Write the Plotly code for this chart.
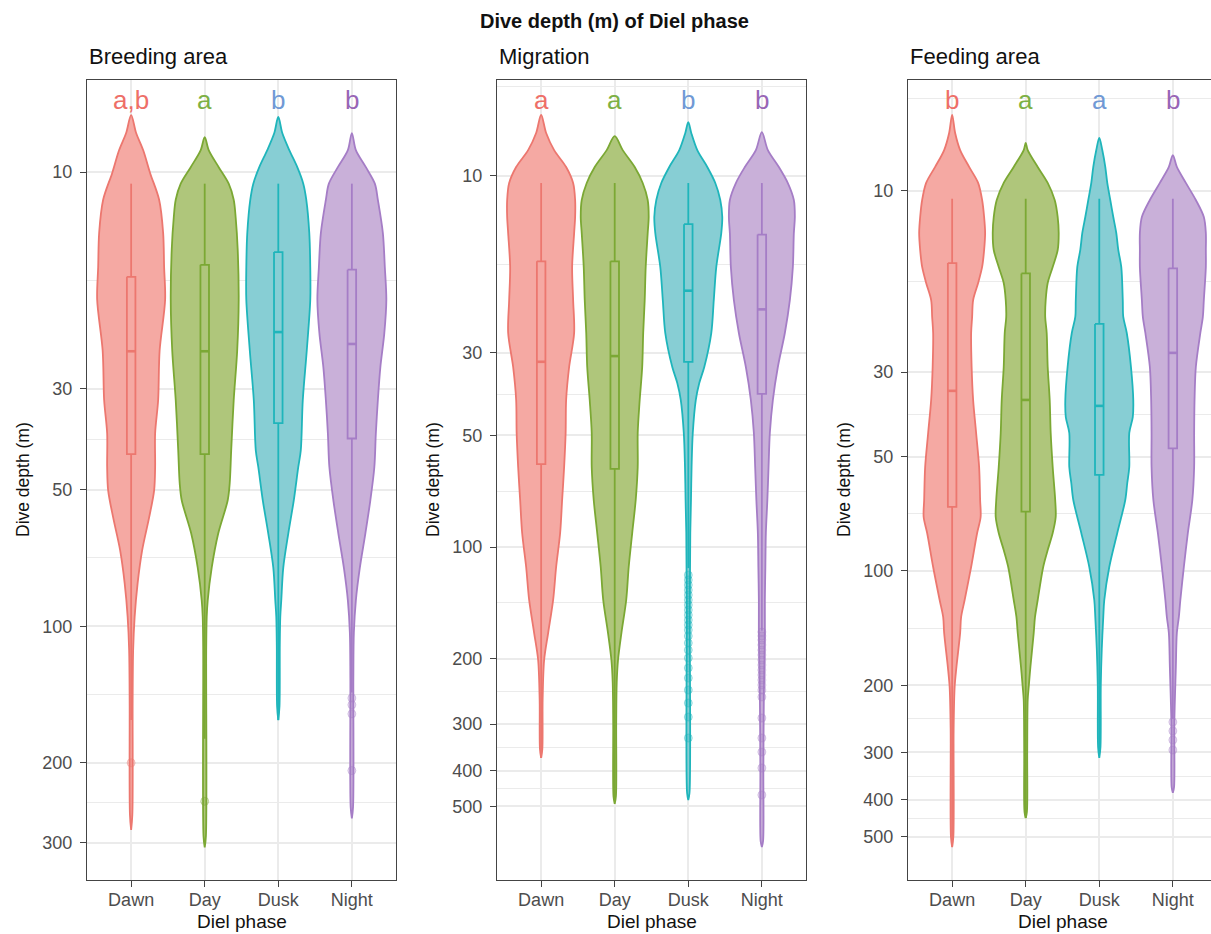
import plotly.graph_objects as go

# ---------------------------------------------------------------------------
# Data: dive depth (m) per diel phase for three movement stages.
# Each violin is described by depth knots (m) and the kernel-density
# half-width at those depths (relative units, max ~34).
# ---------------------------------------------------------------------------
phases = ["Dawn", "Day", "Dusk", "Night"]
panel_titles = ["Breeding area", "Migration", "Feeding area"]

# --- Breeding area ---------------------------------------------------------
breeding_dawn_depth = [7.49, 8.20, 8.94, 10.05, 11.5, 13.6, 16.2, 19.1, 24.7, 31.8, 37.6, 44.6, 50.2, 57.6, 68.1, 80.4, 95.4, 113, 146, 260, 281]
breeding_dawn_dens = [0, 5, 12, 19, 28, 32, 33, 34, 28.5, 27, 24, 24, 23, 18, 11, 6.5, 3.5, 2, 1.5, 1.2, 0]
breeding_day_depth = [8.37, 8.94, 9.75, 10.6, 11.5, 12.6, 14.8, 19.1, 24.7, 31.8, 41.0, 48.5, 52.8, 62.5, 74.3, 87.7, 95.4, 113, 290, 307]
breeding_day_dens = [0, 4, 14, 24, 29, 31, 33, 34, 32.5, 29, 26.5, 25, 23, 13.5, 7, 3, 2, 1.5, 1.2, 0]
breeding_dusk_depth = [7.56, 8.20, 8.94, 9.75, 10.6, 11.5, 13.6, 16.2, 19.1, 24.7, 31.8, 41.0, 44.6, 52.8, 62.5, 74.3, 87.7, 95.4, 110, 150, 161]
breeding_dusk_dens = [0, 4, 11, 19, 25, 28, 31, 32, 32, 28.5, 24.5, 22.5, 20, 15.5, 10, 5, 3, 2, 1.5, 1.2, 0]
breeding_night_depth = [8.20, 8.94, 9.75, 10.6, 11.5, 13.6, 16.2, 19.1, 22.6, 26.9, 31.8, 37.6, 44.6, 52.8, 62.5, 74.3, 87.7, 103.4, 130, 250, 265]
breeding_night_dens = [0, 4, 14, 23, 26, 31, 33, 34.5, 32.5, 28.5, 26, 24, 22.5, 18.5, 13.5, 8, 4, 2, 1.5, 1.2, 0]

# --- Migration -------------------------------------------------------------
migration_dawn_depth = [6.86, 7.67, 8.53, 9.47, 10.46, 11.62, 12.92, 14.27, 17.62, 21.62, 26.52, 32.74, 40.19, 49.32, 60.90, 74.71, 91.7, 113.2, 138.9, 170.5, 201.6, 258, 350, 370]
migration_dawn_dens = [0, 5, 13, 25, 32, 34, 34, 33, 31, 32, 33, 28, 25, 24.5, 23, 21, 19, 15, 12, 7, 3, 1.5, 1.2, 0]
migration_day_depth = [7.82, 8.53, 9.47, 10.46, 11.62, 12.92, 14.27, 17.62, 21.62, 26.52, 32.74, 40.19, 49.32, 60.90, 74.71, 91.7, 113.2, 138.9, 170.5, 201.6, 232.5, 300, 470, 492]
migration_day_dens = [0, 8, 20, 28, 33, 34, 33, 31, 30, 28.5, 27.5, 25, 23, 23, 21, 17.5, 14, 11.5, 6.7, 3.3, 2, 1.5, 1.2, 0]
migration_dusk_depth = [7.17, 7.67, 8.53, 9.47, 10.46, 11.62, 12.92, 14.27, 17.62, 21.62, 26.52, 32.74, 36.17, 40.19, 49.32, 60.90, 74.71, 91.7, 150, 460, 480]
migration_dusk_dens = [0, 3, 9, 19, 27, 32, 34, 33, 28, 25.5, 23, 16, 11, 7.5, 4.5, 3.3, 2.7, 2, 1.5, 1.2, 0]
migration_night_depth = [7.63, 8.53, 9.47, 10.46, 11.62, 12.92, 14.27, 17.62, 21.62, 26.52, 32.74, 40.19, 49.32, 60.90, 74.71, 91.7, 113.2, 138.9, 170.5, 250, 400, 620, 643]
migration_night_dens = [0, 6, 17, 26, 32, 33, 32, 31, 28, 23, 16, 11, 8, 6.7, 5.5, 4, 3.5, 3, 3, 2, 1.5, 1.2, 0]

# --- Feeding area ----------------------------------------------------------
feeding_dawn_depth = [6.32, 7.05, 7.82, 8.66, 9.54, 10.58, 11.73, 12.92, 14.32, 15.87, 17.49, 19.39, 21.48, 23.67, 29.08, 35.51, 43.36, 53.29, 65.06, 72.11, 79.45, 97.6, 119.2, 132.1, 145.6, 178.8, 201.8, 260, 500, 531.8]
feeding_dawn_dens = [0, 3, 8, 17, 26, 30, 32, 33, 32, 30, 26, 21, 20, 19, 19.5, 21, 24, 27, 28, 28.5, 25, 19, 12.5, 9, 8, 4.3, 2.5, 1.5, 1.2, 0]
feeding_day_depth = [7.49, 7.82, 8.66, 9.54, 10.58, 11.73, 12.92, 14.32, 15.87, 17.49, 19.39, 21.48, 23.67, 29.08, 35.51, 43.36, 53.29, 65.06, 72.11, 79.45, 88.1, 97.6, 119.2, 132.1, 145.6, 178.8, 201.8, 218, 300, 430, 446]
feeding_day_dens = [0, 2, 12, 22, 29, 32, 33, 32, 27, 22, 20, 19.5, 21, 22, 24, 25, 27, 29.5, 30, 27, 22, 17.5, 12, 9.3, 8, 4.7, 3, 2, 1.5, 1.2, 0]
feeding_dusk_depth = [7.27, 7.82, 8.66, 9.54, 10.58, 11.73, 12.92, 14.32, 15.87, 19.39, 21.48, 23.67, 29.08, 35.51, 39.4, 43.36, 53.29, 58.7, 65.06, 79.45, 97.6, 119.2, 132.1, 160, 200, 290, 310]
feeding_dusk_dens = [0, 3, 6, 8, 11, 14, 17, 19, 22, 23.5, 24, 27.5, 31.7, 34, 33.5, 30, 30, 28, 26, 18, 10, 5, 4, 2.5, 1.5, 1.2, 0]
feeding_night_depth = [8.06, 8.66, 9.54, 10.58, 11.73, 12.92, 14.32, 15.87, 19.39, 21.48, 23.67, 29.08, 35.51, 43.36, 53.29, 65.06, 79.45, 97.6, 119.2, 132.1, 145.6, 178.8, 250, 370, 383]
feeding_night_dens = [0, 4, 13, 23, 31, 33, 33, 33, 31, 30, 27.5, 23, 21.7, 21.3, 21.3, 19.5, 15, 11, 7.5, 6, 4, 3, 1.5, 1.2, 0]

# --- Box-plot statistics (m): lower whisker, Q1, median, Q3, upper whisker --
breeding_lower = [10.6, 10.6, 10.6, 10.6]
breeding_q1 = [17.0, 16.0, 15.0, 16.4]
breeding_median = [24.8, 24.8, 22.5, 23.9]
breeding_q3 = [41.8, 41.8, 35.7, 38.6]
breeding_upper = [161, 177, 161, 140]

migration_lower = [10.46, 10.46, 10.46, 10.46]
migration_q1 = [17.0, 17.0, 13.5, 14.4]
migration_median = [31.7, 30.6, 20.4, 22.9]
migration_q3 = [59.8, 61.6, 31.7, 38.7]
migration_upper = [370, 480, 114, 168]

feeding_lower = [10.5, 10.5, 10.5, 10.5]
feeding_q1 = [15.5, 16.5, 22.4, 16.0]
feeding_median = [33.6, 35.5, 36.8, 26.7]
feeding_q3 = [67.8, 69.8, 55.9, 47.6]
feeding_upper = [531, 446, 300, 245]

# --- Outlying dives (m) -----------------------------------------------------
breeding_outliers = {"Dawn": [200], "Day": [243], "Dusk": [], "Night": [144, 149, 156, 208]}
migration_outliers = {
    "Dawn": [], "Day": [],
    "Dusk": [119, 122.7, 126.6, 130.6, 134.7, 138.9, 143.3, 147.8, 152.5, 157.3, 162.2, 167.3,
             173.7, 181.4, 189.5, 199.1, 211.8, 225.4, 242.8, 263.2, 287.1, 327.0],
    "Night": [169.4, 173.6, 178.0, 183.6, 189.5, 195.4, 201.6, 207.9, 214.5, 221.2, 228.2, 235.4,
              242.8, 253.5, 288.8, 327, 356.6, 393.8, 465.5],
}
feeding_outliers = {"Dawn": [], "Day": [], "Dusk": [], "Night": [249.5, 263.4, 278.2, 295.6]}

# --- Compact-letter display of pairwise comparisons ------------------------
breeding_letters = ["a,b", "a", "b", "b"]
migration_letters = ["a", "a", "b", "b"]
feeding_letters = ["b", "a", "a", "b"]

# --- Axis ticks -------------------------------------------------------------
breeding_ticks = [10, 30, 50, 100, 200, 300]
breeding_minor = [17.32, 38.73, 70.71, 141.4, 244.9]
other_ticks = [10, 30, 50, 100, 200, 300, 400, 500]
other_minor = [5.74, 17.32, 38.73, 70.71, 141.4, 244.9, 346.4, 447.2]

# ---------------------------------------------------------------------------
# Styling
# ---------------------------------------------------------------------------
line_colors = ["#EC776F", "#7BA834", "#1FB5BB", "#A57DC6"]
fill_colors = ["#F5A9A3", "#AFC67B", "#87CED4", "#C9B0D9"]
point_rgb = ["236,119,111", "123,168,52", "31,181,187", "165,125,198"]
letter_colors = ["#EE6F68", "#7DB044", "#7099D5", "#9865B6"]
DENS_TO_X = 1 / 73.6          # density unit -> category-axis half width
BOX_HALF = 0.058
FONT = "Liberation Sans, Arial, sans-serif"
GRID = "#EBEBEB"
FRAME = "#444444"
W, H = 1211, 934

panels = [
    dict(title=panel_titles[0],
         depths=[breeding_dawn_depth, breeding_day_depth, breeding_dusk_depth, breeding_night_depth],
         dens=[breeding_dawn_dens, breeding_day_dens, breeding_dusk_dens, breeding_night_dens],
         box=(breeding_lower, breeding_q1, breeding_median, breeding_q3, breeding_upper),
         outliers=breeding_outliers, letters=breeding_letters,
         ticks=breeding_ticks, minor=breeding_minor, yrange=[2.559, 0.797],
         px=(87, 396), xrange=[0.4, 4.6]),
    dict(title=panel_titles[1],
         depths=[migration_dawn_depth, migration_day_depth, migration_dusk_depth, migration_night_depth],
         dens=[migration_dawn_dens, migration_day_dens, migration_dusk_dens, migration_night_dens],
         box=(migration_lower, migration_q1, migration_median, migration_q3, migration_upper),
         outliers=migration_outliers, letters=migration_letters,
         ticks=other_ticks, minor=other_minor, yrange=[2.897, 0.742],
         px=(497, 806), xrange=[0.4, 4.6]),
    dict(title=panel_titles[2],
         depths=[feeding_dawn_depth, feeding_day_depth, feeding_dusk_depth, feeding_night_depth],
         dens=[feeding_dawn_dens, feeding_day_dens, feeding_dusk_dens, feeding_night_dens],
         box=(feeding_lower, feeding_q1, feeding_median, feeding_q3, feeding_upper),
         outliers=feeding_outliers, letters=feeding_letters,
         ticks=other_ticks, minor=other_minor, yrange=[2.8125, 0.709],
         px=(908, 1211), xrange=[0.4, 0.4 + 303 / 73.57]),
]

PLOT_TOP, PLOT_BOTTOM = 80, 880
ydom = [1 - PLOT_BOTTOM / H, 1 - PLOT_TOP / H]

fig = go.Figure()
annotations = []
layout_axes = {}

for p, panel in enumerate(panels):
    sfx = "" if p == 0 else str(p + 1)
    xa, ya = "x" + sfx, "y" + sfx
    positions = [1, 2, 3, 4]

    for i, phase in enumerate(phases):
        xc = positions[i]
        depth = panel["depths"][i]
        dens = panel["dens"][i]

        # violin outline: left edge top->bottom, right edge bottom->top
        xs = [xc - d * DENS_TO_X for d in dens] + [xc + d * DENS_TO_X for d in dens][::-1]
        ys = list(depth) + list(depth)[::-1]
        fig.add_trace(go.Scatter(
            x=xs, y=ys, mode="lines", fill="toself", fillcolor=fill_colors[i],
            line=dict(color=line_colors[i], width=1.8, shape="spline", smoothing=0.9),
            xaxis=xa, yaxis=ya, showlegend=False, hoverinfo="skip"))

        # narrow box plot (whiskers, IQR box, median)
        lo, q1, med, q3, hi = (s[i] for s in panel["box"])
        bx = [xc, xc, None,
              xc - BOX_HALF, xc + BOX_HALF, xc + BOX_HALF, xc - BOX_HALF, xc - BOX_HALF, None,
              xc, xc]
        by = [lo, q1, None, q1, q1, q3, q3, q1, None, q3, hi]
        fig.add_trace(go.Scatter(
            x=bx, y=by, mode="lines", line=dict(color=line_colors[i], width=1.8),
            xaxis=xa, yaxis=ya, showlegend=False, hoverinfo="skip"))
        fig.add_trace(go.Scatter(
            x=[xc - BOX_HALF, xc + BOX_HALF], y=[med, med], mode="lines",
            line=dict(color=line_colors[i], width=2.6),
            xaxis=xa, yaxis=ya, showlegend=False, hoverinfo="skip"))

        pts = panel["outliers"][phase]
        if pts:
            fig.add_trace(go.Scatter(
                x=[xc] * len(pts), y=pts, mode="markers",
                marker=dict(size=8, color=f"rgba({point_rgb[i]},0.24)",
                            line=dict(color=f"rgba({point_rgb[i]},0.4)", width=1)),
                xaxis=xa, yaxis=ya, showlegend=False, hoverinfo="skip"))

        annotations.append(dict(
            x=xc, y=0.975, xref=xa, yref=f"{ya} domain", text=panel["letters"][i],
            showarrow=False, xanchor="center", yanchor="middle",
            font=dict(family=FONT, size=26, color=letter_colors[i])))

    x0, x1 = panel["px"]
    last = p == 2
    layout_axes["xaxis" + sfx] = dict(
        domain=[x0 / W, x1 / W], range=panel["xrange"], anchor=ya,
        tickmode="array", tickvals=positions, ticktext=phases,
        showgrid=True, gridcolor=GRID, gridwidth=1.5, zeroline=False,
        showline=True, mirror=True, linecolor=FRAME, linewidth=1.2,
        ticks="outside", ticklen=6, tickwidth=1.2, tickcolor=FRAME, ticklabelstandoff=-3,
        tickfont=dict(family=FONT, size=18, color="#4D4D4D"))
    layout_axes["yaxis" + sfx] = dict(
        domain=ydom, type="log", range=panel["yrange"], anchor=xa,
        tickmode="array", tickvals=panel["ticks"], ticktext=[str(t) for t in panel["ticks"]],
        showgrid=True, gridcolor=GRID, gridwidth=1.5, zeroline=False,
        minor=dict(tickmode="array", tickvals=panel["minor"], showgrid=True,
                   gridcolor=GRID, gridwidth=1, ticklen=0),
        showline=True, mirror=not last, linecolor=FRAME, linewidth=1.2,
        ticks="outside", ticklen=6, tickwidth=1.2, tickcolor=FRAME, ticklabelstandoff=4,
        tickfont=dict(family=FONT, size=18, color="#4D4D4D"))

    # panel title, axis titles
    annotations.append(dict(x=x0 / W, y=1 - 56 / H, xref="paper", yref="paper",
                            text=panel["title"], showarrow=False, xanchor="left", yanchor="middle",
                            font=dict(family=FONT, size=22, color="#111111")))
    annotations.append(dict(x=(x0 - 64) / W, y=1 - 480 / H, xref="paper", yref="paper",
                            text="Dive depth (m)", showarrow=False, textangle=-90,
                            xanchor="center", yanchor="middle",
                            font=dict(family=FONT, size=17.5, color="#111111")))
    xc_title = (x0 + x0 + 309) / 2
    annotations.append(dict(x=xc_title / W, y=1 - 921 / H, xref="paper", yref="paper",
                            text="Diel phase", showarrow=False, xanchor="center", yanchor="middle",
                            font=dict(family=FONT, size=19, color="#111111")))

annotations.append(dict(x=615 / W, y=1 - 21 / H, xref="paper", yref="paper",
                        text="<b>Dive depth (m) of Diel phase</b>", showarrow=False,
                        xanchor="center", yanchor="middle",
                        font=dict(family=FONT, size=20, color="#111111")))

fig.update_layout(
    width=W, height=H, margin=dict(l=0, r=0, t=0, b=0),
    paper_bgcolor="white", plot_bgcolor="white",
    showlegend=False, annotations=annotations, **layout_axes)

fig.write_html("out.html", config={"displayModeBar": False})
